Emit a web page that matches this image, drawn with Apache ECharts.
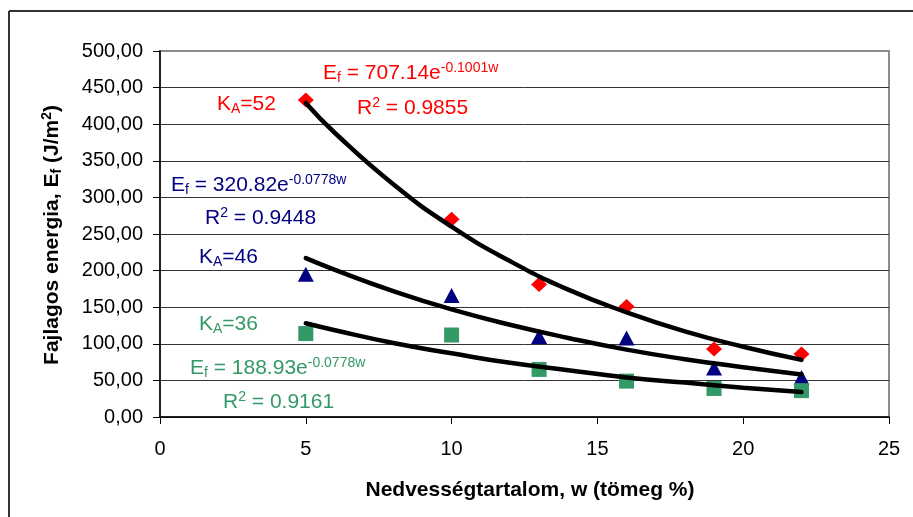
<!DOCTYPE html>
<html>
<head>
<meta charset="utf-8">
<script src="https://cdn.jsdelivr.net/npm/echarts@6/dist/echarts.min.js"></script>
<style>html,body{margin:0;padding:0;background:#fff}#c{width:913px;height:517px}</style>
</head>
<body>
<div id="c"></div>
<script>
// ---- data ----
const moisture = [5, 10, 13, 16, 19, 22];
const energyKA52 = [433, 270, 181, 151, 93, 86];
const energyKA46 = [195, 166, 110, 108, 67, 54];
const energyKA36 = [114, 112, 65, 49, 39, 36];
// trend curves
const trendX = [5, 6, 8, 10, 12, 14, 16, 18, 20, 22];
const trendKA52 = [429, 388, 318, 260, 213, 174, 143, 117, 96, 78];
const trendKA46 = [217, 201, 172, 147, 126, 108, 92, 79, 68, 58];
const trendKA36 = [128, 118.5, 101, 87, 74, 64, 54, 47, 40, 34];
const xTicks = [0, 5, 10, 15, 20, 25];
const yTicks = [0, 50, 100, 150, 200, 250, 300, 350, 400, 450, 500];
const yTickLabels = ['0,00', '50,00', '100,00', '150,00', '200,00', '250,00', '300,00', '350,00', '400,00', '450,00', '500,00'];

const FF = "'Liberation Sans', Arial, sans-serif";
const pairs = (xs, ys) => xs.map((x, i) => [x, ys[i]]);

function rich(size, weight) {
  return {
    m: {fontSize: size, lineHeight: 24, fontFamily: FF, fontWeight: weight},
    sub: {fontSize: 14, lineHeight: 12, verticalAlign: 'bottom', fontFamily: FF, fontWeight: weight},
    sup: {fontSize: 14, lineHeight: 10, verticalAlign: 'top', fontFamily: FF, fontWeight: weight}
  };
}
function label(x, y, text, color) {
  return {type: 'text', x: x, y: y, z: 100,
    style: {text: text, rich: rich(21, 'normal'), fill: color, align: 'left', verticalAlign: 'middle'}};
}

const chart = echarts.init(document.getElementById('c'));
chart.setOption({
  animation: false,
  backgroundColor: '#fff',
  grid: {left: 160, right: 24, top: 51, bottom: 100, show: true, borderColor: '#8c8c8c', borderWidth: 2, backgroundColor: 'transparent'},
  xAxis: {
    type: 'value', min: xTicks[0], max: xTicks[xTicks.length - 1], interval: 5,
    axisLine: {show: true, onZero: false, lineStyle: {color: '#000', width: 1.5}},
    axisTick: {show: true, length: 7, lineStyle: {color: '#000', width: 1}},
    axisLabel: {fontSize: 20, color: '#000', margin: 22, fontFamily: FF},
    splitLine: {show: false}
  },
  yAxis: {
    type: 'value', min: yTicks[0], max: yTicks[yTicks.length - 1], interval: 50,
    axisLine: {show: true, lineStyle: {color: '#000', width: 1.5}},
    axisTick: {show: true, length: 7, lineStyle: {color: '#000', width: 1}},
    axisLabel: {fontSize: 20, color: '#000', margin: 17, fontFamily: FF,
      formatter: v => yTickLabels[yTicks.indexOf(v)]},
    splitLine: {show: true, showMaxLine: false, lineStyle: {color: '#333', width: 1}}
  },
  series: [
    {name: 'KA=52', type: 'scatter', data: pairs(moisture, energyKA52), symbol: 'diamond', symbolSize: [16, 15], itemStyle: {color: '#ff0000', opacity: 1}, z: 2},
    {name: 'KA=46', type: 'scatter', data: pairs(moisture, energyKA46), symbol: 'triangle', symbolSize: [16, 15], itemStyle: {color: '#000080', opacity: 1}, z: 2},
    {name: 'KA=36', type: 'scatter', data: pairs(moisture, energyKA36), symbol: 'rect', symbolSize: [15, 15], itemStyle: {color: '#339966', opacity: 1}, z: 2},
    {name: 'trend52', type: 'line', data: pairs(trendX, trendKA52), smooth: true, showSymbol: false, lineStyle: {color: '#000', width: 4.5, cap: 'round'}, z: 5},
    {name: 'trend46', type: 'line', data: pairs(trendX, trendKA46), smooth: true, showSymbol: false, lineStyle: {color: '#000', width: 4.5, cap: 'round'}, z: 5},
    {name: 'trend36', type: 'line', data: pairs(trendX, trendKA36), smooth: true, showSymbol: false, lineStyle: {color: '#000', width: 4.5, cap: 'round'}, z: 5}
  ],
  graphic: [
    {type: 'line', shape: {x1: 9, y1: 11, x2: 913, y2: 11}, style: {stroke: '#333', lineWidth: 2}},
    {type: 'line', shape: {x1: 9, y1: 11, x2: 9, y2: 517}, style: {stroke: '#333', lineWidth: 2}},
    label(323, 73, '{m|E}{sub|f}{m| = 707.14e}{sup|-0.1001w}', '#ff0000'),
    label(217, 104, '{m|K}{sub|A}{m|=52}', '#ff0000'),
    label(357, 108, '{m|R}{sup|2}{m| = 0.9855}', '#ff0000'),
    label(171, 185, '{m|E}{sub|f}{m| = 320.82e}{sup|-0.0778w}', '#000080'),
    label(205, 218.5, '{m|R}{sup|2}{m| = 0.9448}', '#000080'),
    label(199, 257.5, '{m|K}{sub|A}{m|=46}', '#000080'),
    label(199, 324.5, '{m|K}{sub|A}{m|=36}', '#339966'),
    label(190, 368, '{m|E}{sub|f}{m| = 188.93e}{sup|-0.0778w}', '#339966'),
    label(223, 402, '{m|R}{sup|2}{m| = 0.9161}', '#339966'),
    {type: 'text', x: 52, y: 235, rotation: Math.PI / 2, z: 100,
      style: {text: '{m|Fajlagos energia, E}{sub|f}{m| (J/m}{sup|2}{m|)}', rich: rich(21, 'bold'), fill: '#000', align: 'center', verticalAlign: 'middle'}},
    {type: 'text', x: 530, y: 490, z: 100,
      style: {text: 'Nedvességtartalom, w (tömeg %)', fontSize: 21, fontWeight: 'bold', fontFamily: FF, fill: '#000', align: 'center', verticalAlign: 'middle'}}
  ]
});
</script>
</body>
</html>
